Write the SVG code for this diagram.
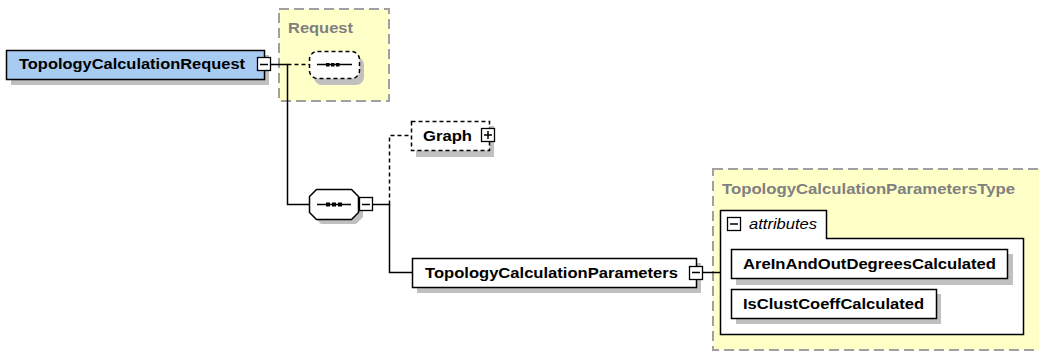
<svg xmlns="http://www.w3.org/2000/svg" width="1039" height="352" viewBox="0 0 1039 352">
<style>
.t{font-family:"Liberation Sans",Arial,sans-serif;font-weight:bold;font-size:15.5px;fill:#000}
.g{fill:#808080}
.it{font-family:"Liberation Sans",Arial,sans-serif;font-style:italic;font-size:14.5px;fill:#000}
.box{fill:#fff;stroke:#000;stroke-width:1.5}
.dbox{fill:#fff;stroke:#000;stroke-width:1.5;stroke-dasharray:4 3}
.sh{fill:#c0c0c0}
.grp{fill:#ffffc8;stroke:#a0a0a0;stroke-width:2;stroke-dasharray:10 5}
.ln{stroke:#000;stroke-width:1.5;fill:none}
.dl{stroke:#000;stroke-width:1.5;fill:none;stroke-dasharray:4 3}
.btn{fill:#fff;stroke:#000;stroke-width:1.3}
</style>
<g id="groups">
<rect class="grp" x="279" y="9" width="110" height="92"/>
<rect class="grp" x="713" y="169" width="340" height="181"/>
</g>
<g id="connectors">
<path class="ln" d="M271,64.5H287.5V204.5H309"/>
<path class="dl" d="M287.5,64.5H309"/>
<path class="ln" d="M373,204.5H389.5V272.5H412"/>
<path class="dl" d="M389.5,204.5V135.5H411"/>
<path class="ln" d="M703,272.5H720"/>
</g>
<g id="TopologyCalculationRequest">
<rect class="sh" x="11" y="55" width="258" height="30"/>
<rect x="6.5" y="50.5" width="258" height="29" fill="#a8cbf2" stroke="#000" stroke-width="1.5"/>
<text class="t" x="19" y="69" textLength="226" lengthAdjust="spacingAndGlyphs">TopologyCalculationRequest</text>
<rect class="btn" x="257.5" y="57.5" width="13" height="13"/>
<path class="ln" d="M260,64.5H268"/>
</g>
<g id="Request">
<text class="t g" x="288" y="33" textLength="65" lengthAdjust="spacingAndGlyphs">Request</text>
<rect class="sh" x="314" y="57" width="50" height="28" rx="8"/>
<rect class="dbox" x="309.5" y="51.5" width="50" height="27" rx="8"/>
<path class="ln" d="M317,64.5H352"/>
<rect x="326" y="63" width="3.5" height="3.5"/><rect x="331" y="63" width="3.5" height="3.5"/><rect x="336" y="63" width="3.5" height="3.5"/>
</g>
<g id="sequence">
<polygon class="sh" points="321,194 356,194 363,201 363,217 356,224 321,224 314,217 314,201"/>
<polygon class="box" points="316.5,189.5 351.5,189.5 358.5,196.5 358.5,212.5 351.5,219.5 316.5,219.5 309.5,212.5 309.5,196.5"/>
<path class="ln" d="M317,204.5H351"/>
<rect x="326" y="202.5" width="4" height="4"/><rect x="332" y="202.5" width="4" height="4"/><rect x="338" y="202.5" width="4" height="4"/>
<rect class="btn" x="359.5" y="197.5" width="13" height="13"/>
<path class="ln" d="M362,204.5H370"/>
</g>
<g id="Graph">
<rect class="sh" x="416" y="126" width="78" height="31"/>
<rect class="dbox" x="411.5" y="121.5" width="78" height="29"/>
<text class="t" x="423" y="141" textLength="49" lengthAdjust="spacingAndGlyphs">Graph</text>
<rect class="btn" x="481.5" y="128.5" width="13" height="13"/>
<path class="ln" d="M484,135H492M488,131V139"/>
</g>
<g id="TopologyCalculationParameters">
<rect class="sh" x="417" y="263" width="284" height="30"/>
<rect class="box" x="412.5" y="258.5" width="284" height="29"/>
<text class="t" x="425" y="278" textLength="253" lengthAdjust="spacingAndGlyphs">TopologyCalculationParameters</text>
<rect class="btn" x="689.5" y="266.5" width="13" height="13"/>
<path class="ln" d="M692,272.5H700"/>
</g>
<g id="TopologyCalculationParametersType">
<text class="t g" x="722" y="194" textLength="293" lengthAdjust="spacingAndGlyphs">TopologyCalculationParametersType</text>
<path class="box" d="M720.5,210.5H826.5V238.5H1023.5V334.5H720.5Z"/>
<rect class="btn" x="727.5" y="217.5" width="13" height="13"/>
<path class="ln" d="M730,224H738"/>
<text class="it" x="749" y="229" textLength="68" lengthAdjust="spacingAndGlyphs">attributes</text>
</g>
<g id="AreInAndOutDegreesCalculated">
<rect class="sh" x="736" y="254" width="277" height="31"/>
<rect class="box" x="731.5" y="249.5" width="276" height="29"/>
<text class="t" x="743" y="269" textLength="253" lengthAdjust="spacingAndGlyphs">AreInAndOutDegreesCalculated</text>
</g>
<g id="IsClustCoeffCalculated">
<rect class="sh" x="736" y="294" width="205" height="30"/>
<rect class="box" x="731.5" y="289.5" width="205" height="29"/>
<text class="t" x="743" y="309" textLength="181" lengthAdjust="spacingAndGlyphs">IsClustCoeffCalculated</text>
</g>
</svg>
